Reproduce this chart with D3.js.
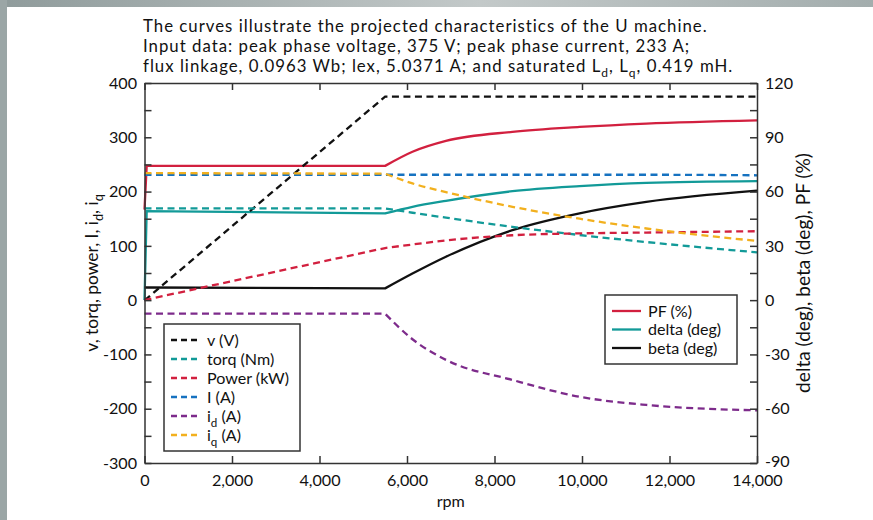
<!DOCTYPE html>
<html>
<head>
<meta charset="utf-8">
<script src="https://cdn.jsdelivr.net/npm/d3@7"></script>
<style>
  body { margin: 0; background: #fff; }
  text { font-family: Lato, "Open Sans", sans-serif; fill: #111; }
</style>
</head>
<body>
<script>
// values
var rpm   = [0, 50, 5500, 6125, 6890, 8410, 9945, 11470, 14000];
var v     = [0, 3, 375, 375, 375, 375, 375, 375, 375];
var torq  = [169, 169, 169, 161, 152, 135, 120, 107, 88];
var power = [0, 1, 96, 102.5, 110, 119.5, 123, 124.5, 127];
var cur   = [231, 231, 231, 231, 231, 231, 231, 231, 230];
var id    = [-25, -25, -25, -72, -110, -147, -178, -193, -203];
var iq    = [234, 234, 233, 215, 199, 172, 150, 132, 109];
var pf    = [50, 74.2, 74.2, 82, 88, 93, 95.7, 97.6, 99.4];
var delta = [0, 49.2, 48, 51.6, 54.9, 60.2, 63, 64.8, 65.8];
var beta  = [7, 7, 6.5, 14.7, 24, 38.7, 48, 54.3, 60.5];
var breakIdx = 2;

var xTicks = [0, 2000, 4000, 6000, 8000, 10000, 12000, 14000];
var leftTicks = d3.range(-300, 401, 50);
var rightTicks = d3.range(-90, 121, 15);

var leftSeries = [
  {name: "v (V)", vals: v, color: "#111111"},
  {name: "torq (Nm)", vals: torq, color: "#129a98"},
  {name: "Power (kW)", vals: power, color: "#d2203f"},
  {name: "I (A)", vals: cur, color: "#1672c0"},
  {name: "i", sub: "d", tail: " (A)", vals: id, color: "#7d2b8b"},
  {name: "i", sub: "q", tail: " (A)", vals: iq, color: "#f2b01e"}
];
var rightSeries = [
  {name: "PF (%)", vals: pf, color: "#d2203f"},
  {name: "delta (deg)", vals: delta, color: "#129a98"},
  {name: "beta (deg)", vals: beta, color: "#111111"}
];

var W = 873, H = 520;
var svg = d3.select("body").append("svg").attr("width", W).attr("height", H);

// size a text so its width matches what the picture shows
function fit(sel, target) {
  var fs = 16;
  sel.attr("font-size", fs);
  var w = sel.node().getComputedTextLength();
  return fs * target / w;
}

// grey frame
var defs = svg.append("defs");
var grad = defs.append("linearGradient").attr("id", "topband");
grad.append("stop").attr("offset", "0%").attr("stop-color", "#8f9b9b");
grad.append("stop").attr("offset", "55%").attr("stop-color", "#c3c9c9");
grad.append("stop").attr("offset", "100%").attr("stop-color", "#a3adad");
svg.append("rect").attr("x", 0).attr("y", 0).attr("width", W).attr("height", 7).attr("fill", "url(#topband)");
svg.append("rect").attr("x", 0).attr("y", 0).attr("width", 7).attr("height", H).attr("fill", "#9ba6a6");

var x = d3.scaleLinear().domain([0, 14000]).range([144.5, 757]);
var yL = d3.scaleLinear().domain([-300, 400]).range([463, 83]);
var yR = d3.scaleLinear().domain([-90, 120]).range([463, 83]);

// title: keep the letter height, widen with letter spacing
var titleFs = 16.8, subFs = 12;
var t1 = svg.append("text").attr("x", 143).attr("y", 32).attr("font-size", titleFs)
  .text("The curves illustrate the projected characteristics of the U machine.");
var w1 = t1.node().getComputedTextLength();
var ls = (564 - w1) / (t1.text().length - 1);
t1.attr("letter-spacing", ls);
svg.append("text").attr("x", 143).attr("y", 52).attr("font-size", titleFs)
  .attr("letter-spacing", ls)
  .text("Input data: peak phase voltage, 375 V; peak phase current, 233 A;");
var l3 = svg.append("text").attr("x", 143).attr("y", 71.5).attr("font-size", titleFs)
  .attr("letter-spacing", ls);
l3.append("tspan").text("flux linkage, 0.0963 Wb; lex, 5.0371 A; and saturated L");
l3.append("tspan").attr("dy", 5).attr("font-size", subFs).text("d");
l3.append("tspan").attr("dy", -5).text(", L");
l3.append("tspan").attr("dy", 5).attr("font-size", subFs).text("q");
l3.append("tspan").attr("dy", -5).text(", 0.419 mH.");

// lines
function drawSeries(list, y) {
  list.forEach(function(s) {
    var pts = rpm.map(function(r, i) { return [x(r), y(s.vals[i])]; });
    var flat = d3.line().curve(d3.curveLinear)(pts.slice(0, breakIdx + 1));
    var bend = d3.line().curve(d3.curveMonotoneX)(pts.slice(breakIdx));
    svg.append("path")
      .attr("d", flat + bend.replace(/^M/, "L"))
      .attr("fill", "none")
      .attr("stroke", s.color)
      .attr("stroke-width", 2.3)
      .attr("stroke-dasharray", s.dash || null);
  });
}
leftSeries.forEach(function(s) { s.dash = "7,4.5"; });
drawSeries(rightSeries, yR);
drawSeries(leftSeries, yL);

// axes
var probe = svg.append("text").text("14,000");
var tickFs = fit(probe, 50.5);
probe.remove();

function styleAxis(g) {
  g.selectAll("path, line").attr("stroke", "#333").attr("stroke-width", 1.5);
  g.selectAll("text").attr("font-size", tickFs).attr("fill", "#111")
    .attr("font-family", "Lato, 'Open Sans', sans-serif");
}
svg.append("g").attr("transform", "translate(" + x(0) + ",0)")
  .call(d3.axisLeft(yL).tickValues(leftTicks).tickSize(-7).tickSizeOuter(0).tickPadding(7.5)
    .tickFormat(function(d) { return d % 100 === 0 ? String(d) : ""; }))
  .call(styleAxis);
svg.append("g").attr("transform", "translate(" + x(14000) + ",0)")
  .call(d3.axisRight(yR).tickValues(rightTicks).tickSize(-7).tickSizeOuter(0).tickPadding(8)
    .tickFormat(function(d) { return d % 30 === 0 ? String(d) : ""; }))
  .call(styleAxis)
  .selectAll(".tick text").filter(function(d) { return d === -90; }).attr("dy", "0.2em");
svg.append("g").attr("transform", "translate(0," + yL(-300) + ")")
  .call(d3.axisBottom(x).tickValues(xTicks).tickSize(-7).tickSizeOuter(0).tickPadding(12)
    .tickFormat(d3.format(",")))
  .call(styleAxis);
svg.append("g").attr("transform", "translate(0," + yL(400) + ")")
  .call(d3.axisTop(x).tickValues(xTicks).tickSize(-7).tickSizeOuter(0).tickFormat(""))
  .call(styleAxis);

// axis titles
svg.append("text").attr("x", (x(0) + x(14000)) / 2).attr("y", 507)
  .attr("text-anchor", "middle").attr("font-size", tickFs).text("rpm");

var mid = (yL(400) + yL(-300)) / 2;
var lt = svg.append("text").attr("transform", "translate(98," + mid + ") rotate(-90)")
  .attr("text-anchor", "middle");
lt.append("tspan").text("v, torq, power, I, i");
lt.append("tspan").attr("dy", 5).attr("class", "sub").text("d");
lt.append("tspan").attr("dy", -5).text(", i");
lt.append("tspan").attr("dy", 5).attr("class", "sub").text("q");
var ltFs = fit(lt, 163);
lt.attr("font-size", ltFs);
lt.selectAll(".sub").attr("font-size", ltFs * 0.72);

var rt = svg.append("text").attr("transform", "translate(810," + mid + ") rotate(-90)")
  .attr("text-anchor", "middle")
  .text("delta (deg), beta (deg), PF (%)");
rt.attr("font-size", fit(rt, 240));

// legends
var probe2 = svg.append("text").text("Power (kW)");
var legFs = fit(probe2, 82);
probe2.remove();

function legend(list, x0, y0, w, h, first, step) {
  var g = svg.append("g");
  g.append("rect").attr("x", x0).attr("y", y0).attr("width", w).attr("height", h)
    .attr("fill", "#fff").attr("stroke", "#333").attr("stroke-width", 1.5);
  list.forEach(function(s, i) {
    var yy = y0 + first + i * step;
    g.append("line").attr("x1", x0 + 7).attr("x2", x0 + 36).attr("y1", yy).attr("y2", yy)
      .attr("stroke", s.color).attr("stroke-width", 2.3)
      .attr("stroke-dasharray", s.dash ? "6,4" : null);
    var t = g.append("text").attr("x", x0 + 43).attr("y", yy + 5.5).attr("font-size", legFs);
    t.append("tspan").text(s.name);
    if (s.sub) {
      t.append("tspan").attr("dy", 5).attr("font-size", legFs * 0.72).text(s.sub);
      t.append("tspan").attr("dy", -5).text(s.tail);
    }
  });
}
legend(leftSeries, 164, 324, 136, 127, 16, 19);
legend(rightSeries, 605, 295, 132, 69, 16, 18.5);
</script>
</body>
</html>
